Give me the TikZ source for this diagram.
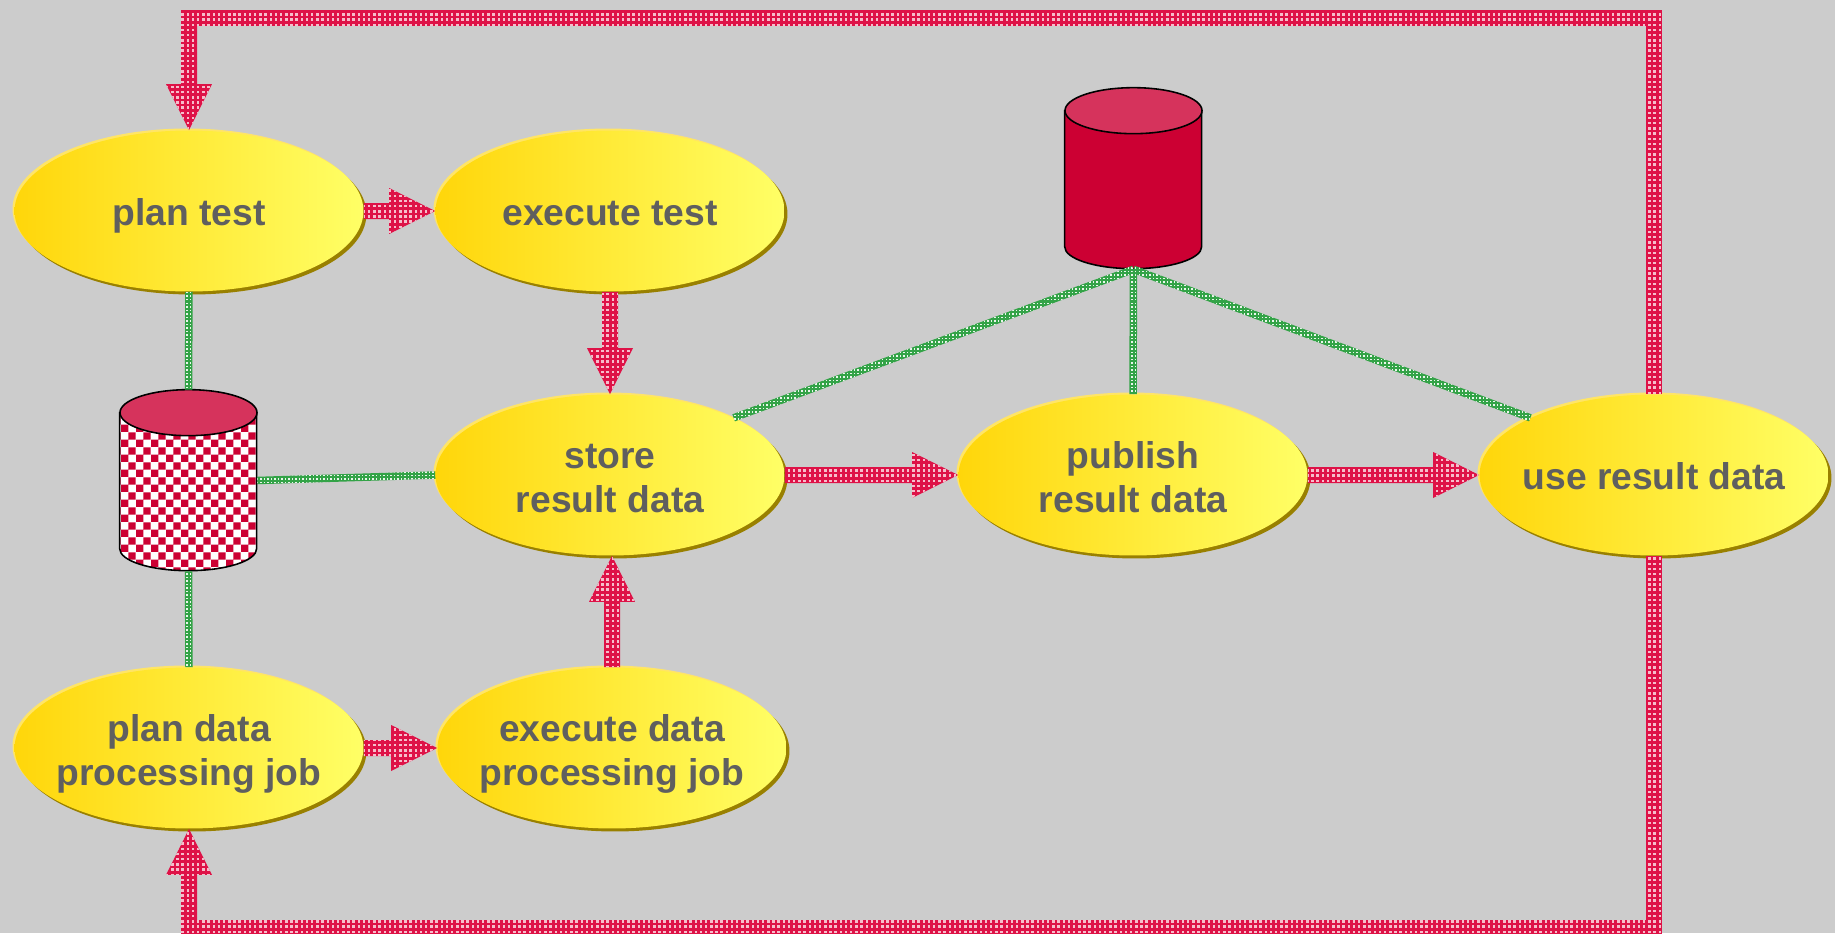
\documentclass[tikz,border=0pt]{standalone}
\usepackage{fontspec}
\setmainfont{Liberation Sans}
\usetikzlibrary{calc,patterns,shadows,shapes.geometric}
\definecolor{paper}{HTML}{CCCCCC}
\definecolor{flowred}{HTML}{DE1247}
\definecolor{drumred}{HTML}{CC0033}
\definecolor{drumtop}{HTML}{D6335C}
\definecolor{linkgreen}{HTML}{33A347}
\definecolor{blobleft}{HTML}{FFD60A}
\definecolor{blobright}{HTML}{FFFF66}
\definecolor{blobrim}{HTML}{FFE566}
\definecolor{blobdark}{HTML}{998000}
\definecolor{blobtext}{HTML}{5F5F5F}
\newcommand\lift{\rule{0pt}{22.6pt}}
\pgfdeclarepatternformonly{flowdots}{\pgfqpoint{-1pt}{-1pt}}{\pgfqpoint{3pt}{3pt}}{\pgfqpoint{2.95pt}{2.95pt}}{\pgfpathrectangle{\pgfqpoint{0pt}{0pt}}{\pgfqpoint{1.4pt}{1.4pt}}\pgfusepath{fill}}
\pgfdeclarepatternformonly{linkdots}{\pgfqpoint{-1pt}{-1pt}}{\pgfqpoint{2pt}{2pt}}{\pgfqpoint{2pt}{2pt}}{\pgfpathrectangle{\pgfqpoint{0pt}{0pt}}{\pgfqpoint{.85pt}{.85pt}}\pgfusepath{fill}}
\pgfdeclarepatternformonly{drumcheck}{\pgfqpoint{0pt}{0pt}}{\pgfqpoint{8.7pt}{8.7pt}}{\pgfqpoint{8.7pt}{8.7pt}}{\pgfpathrectangle{\pgfqpoint{0pt}{0pt}}{\pgfqpoint{4.35pt}{4.35pt}}\pgfpathrectangle{\pgfqpoint{4.35pt}{4.35pt}}{\pgfqpoint{4.35pt}{4.35pt}}\pgfusepath{fill}}
\tikzset{
	blob/.style={ellipse,minimum width=6.98cm,minimum height=3.22cm,inner sep=-1.2cm,align=center,
		general shadow={shadow xshift=.06cm,shadow yshift=-.06cm,fill=blobdark},
		general shadow={shadow xshift=-.04cm,shadow yshift=.04cm,fill=blobrim},
		left color=blobleft,right color=blobright,
		text=blobtext,font=\fontsize{21.2}{25}\selectfont\bfseries,
		execute at begin node={\rule[-5pt]{0pt}{26.4pt}},execute at end node={\rule[-5pt]{0pt}{26.4pt}}},
	drum/.style={rectangle,minimum width=2.74cm,minimum height=3.62cm,inner sep=0pt},
	flowfill/.style={fill=flowred,postaction={pattern=flowdots,pattern color=white!72!flowred}},
	linkfill/.style={fill=linkgreen,postaction={pattern=linkdots,pattern color=white!90!linkgreen}},
	checkbody/.style={preaction={fill=white},pattern=drumcheck,pattern color=drumred},
	plainbody/.style={fill=drumred},
	barto/.style={to path={($(\tikztostart)!#1!90:(\tikztotarget)$) -- ($(\tikztotarget)!#1!-90:(\tikztostart)$) -- ($(\tikztotarget)!#1!90:(\tikztostart)$) -- ($(\tikztostart)!#1!-90:(\tikztotarget)$) -- cycle}},
	headto/.style={to path={($(\tikztotarget)!.92cm!(\tikztostart)$) coordinate (n) ($(\tikztostart)!.16cm!90:(\tikztotarget)$) -- ($(n)!.16cm!90:(\tikztotarget)$) -- ($(n)!.46cm!90:(\tikztotarget)$) -- (\tikztotarget) -- ($(n)!.46cm!-90:(\tikztotarget)$) -- ($(n)!.16cm!-90:(\tikztotarget)$) -- ($(\tikztostart)!.16cm!-90:(\tikztotarget)$) -- cycle}}
}
\begin{document}
\begin{tikzpicture}[x=.02cm,y=-.02cm]
	\fill[paper] (0,0) rectangle (1835,933);
	\useasboundingbox (0,0) rectangle (1835,933);
	\foreach \n/\x/\y/\t in {PT/189/211/{plan test},ET/610/211/{execute test},SR/610/475/{\lift store\\result data},PR/1133/475/{\lift publish\\result data},UR/1654/475/{use result data},PD/189/748/{\lift plan data\\processing job},ED/612/748/{\lift execute data\\processing job}}
		\node[blob] (\n) at (\x,\y) {\t};
	\node[drum] (DL) at (188.5,480.5) {};
	\node[drum] (DR) at (1133.5,178.5) {};
	\path
	(UR.north |- 0,18) coordinate (TR)
	(PT.north |- 0,18) coordinate (TL)
	(UR.south |- 0,928) coordinate (BR)
	(PD.south |- 0,928) coordinate (BL)
	(ED.north |- SR.south) coordinate (SE);
	\foreach \x/\b in {DL/checkbody,DR/plainbody} {
		\draw[\b,line width=.9pt] (\x.north west) ++(0,23) -- ++(0,136) arc[start angle=180,end angle=0,x radius=68.5,y radius=22] -- ++(0,-136) -- cycle;
		\draw[fill=drumtop,line width=.9pt] ($(\x.north)+(0,23)$) ellipse [x radius=68.5,y radius=23];
	}
	\foreach \a/\b in {PT.south/DL.north,DL.south/PD.north,DL.east/SR.west,SR.north east/DR.south,DR.south/PR.north,UR.north west/DR.south}
		\path[linkfill,barto=.075cm] (\a) to (\b);
	\foreach \a/\b in {PT.east/ET.west,ET.south/SR.north,SR.east/PR.west,PR.east/UR.west,ED.north/SE,PD.east/ED.west,TL/PT.north,BL/PD.south}
		\path[flowfill,headto] (\a) to (\b);
	\foreach \a/\b in {UR.north/TR,TR/TL,UR.south/BR,BR/BL}
		\path[flowfill,barto=.16cm] (\a) to (\b);
	\foreach \x in {TR,TL,BR,BL}
		\path[flowfill] (\x) ++(-8,-8) rectangle ++(16,16);
\end{tikzpicture}
\end{document}
